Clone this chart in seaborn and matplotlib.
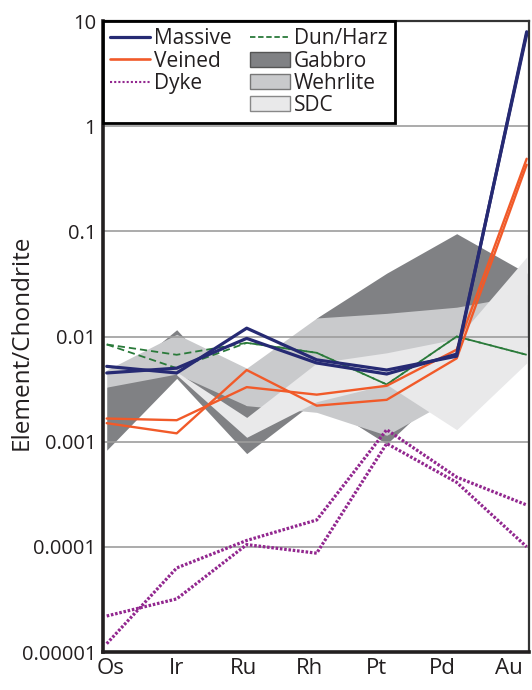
import numpy as np
import pandas as pd
import matplotlib
matplotlib.use("Agg")
import matplotlib.pyplot as plt
from matplotlib.lines import Line2D
from matplotlib.patches import Patch
import seaborn as sns

# --- data (chondrite-normalised PGE + Au) ---
elements = ["Os", "Ir", "Ru", "Rh", "Pt", "Pd", "Au"]

massive_1 = [0.0052, 0.0045, 0.0120, 0.0060, 0.0048, 0.0065, 7.9]
massive_2 = [0.0045, 0.0050, 0.0096, 0.0056, 0.0044, 0.0068, 7.5]

veined_1 = [0.00166, 0.0016, 0.0033, 0.0028, 0.0034, 0.0075, 0.49]
veined_2 = [0.0015, 0.0012, 0.0048, 0.0022, 0.0025, 0.0062, 0.43]

dyke_1 = [1.2e-5, 6.3e-5, 1.15e-4, 1.8e-4, 1.3e-3, 4.6e-4, 2.5e-4]
dyke_2 = [2.2e-5, 3.2e-5, 1.05e-4, 8.7e-5, 9.6e-4, 4.1e-4, 1.0e-4]

dun_harz_1 = [0.0084, 0.0067, 0.0087, 0.0070, 0.0035, 0.0100, 0.0067]
dun_harz_2 = [0.0084, 0.0050, 0.0087, 0.0070, 0.0035, 0.0100, 0.0067]

# fields (lower / upper envelopes)
gabbro_lo = [0.00083, 0.0040, 0.00077, 0.0025, 0.00095, 0.0040, 0.010]
gabbro_hi = [0.0033, 0.0116, 0.0022, 0.015, 0.040, 0.095, 0.040]
wehrlite_lo = [0.0033, 0.0044, 0.0022, 0.0019, 0.00115, 0.0027, 0.008]
wehrlite_hi = [0.0048, 0.0105, 0.0050, 0.0150, 0.0166, 0.019, 0.025]
sdc_lo = [np.nan, 0.0043, 0.0011, 0.0024, 0.0035, 0.0013, 0.0056]
sdc_hi = [np.nan, 0.0046, 0.0017, 0.0056, 0.0070, 0.0095, 0.057]

ytick_vals = [1e-5, 1e-4, 1e-3, 1e-2, 1e-1, 1, 10]
ytick_labels = ["0.00001", "0.0001", "0.001", "0.01", "0.1", "1", "10"]

# long-form table for the sample lines
rows = []
for group, samples in [("Massive", [massive_1, massive_2]),
                       ("Veined", [veined_1, veined_2]),
                       ("Dyke", [dyke_1, dyke_2]),
                       ("Dun/Harz", [dun_harz_1, dun_harz_2])]:
    for k, vals in enumerate(samples):
        for i, v in enumerate(vals):
            rows.append({"group": group, "sample": f"{group}_{k}", "pos": i,
                         "element": elements[i], "value": v})
df = pd.DataFrame(rows)

sns.set_style("white")
plt.rcParams["font.family"] = ["Open Sans", "DejaVu Sans"]

c_navy = "#262a73"
c_orange = "#f15a29"
c_purple = "#92278f"
c_green = "#2a7a3a"
c_gabbro = "#808184"
c_wehrlite = "#c9cacc"
c_sdc = "#e9e9ea"
c_text = "#231f20"

fig = plt.figure(figsize=(5.32, 6.9), dpi=100)
ax = fig.add_axes([103 / 532, 1 - 652 / 690, (529 - 103) / 532, (652 - 21) / 690])

x = np.arange(len(elements))
ax.fill_between(x, gabbro_lo, gabbro_hi, color=c_gabbro, lw=0, zorder=1)
ax.fill_between(x, wehrlite_lo, wehrlite_hi, color=c_wehrlite, lw=0, zorder=1.1)
ax.fill_between(x, sdc_lo, sdc_hi, color=c_sdc, lw=0, zorder=1.2)

styles = {
    "Dun/Harz": dict(color=c_green, lw=1.3, ls=(0, (4, 2.2))),
    "Dyke": dict(color=c_purple, lw=2.3, ls=(0, (0.8, 0.55))),
    "Veined": dict(color=c_orange, lw=1.7, ls="-"),
    "Massive": dict(color=c_navy, lw=2.3, ls="-"),
}
for group, st in styles.items():
    sub = df[df["group"] == group]
    sns.lineplot(data=sub, x="pos", y="value", units="sample", estimator=None,
                 color=st["color"], linewidth=st["lw"], linestyle=st["ls"],
                 legend=False, ax=ax, zorder=3)

ax.set_yscale("log")
ax.set_ylim(1e-5, 10)
ax.set_xlim(-0.053, 6.033)
ax.set_yticks(ytick_vals)
ax.set_yticklabels(ytick_labels)
ax.minorticks_off()
# labels in the original sit slightly left of the data columns
ax.set_xticks(0.05 + x * 0.95)
ax.set_xticklabels(elements)
ax.tick_params(axis="x", length=0, labelsize=16, colors=c_text, pad=4)
ax.tick_params(axis="y", length=0, labelsize=14.5, colors=c_text, pad=5)
ax.set_xlabel("")
ax.set_ylabel("")
fig.text(22 / 532, 1 - 342 / 690, "Element/Chondrite", rotation=90,
         ha="center", va="center", fontsize=17.5, color=c_text)

ax.set_axisbelow("line")
ax.yaxis.grid(True, color="#9d9d9d", lw=1.2)
ax.xaxis.grid(False)

for side in ["left", "bottom"]:
    ax.spines[side].set_linewidth(2.6)
    ax.spines[side].set_color(c_text)
for side in ["top", "right"]:
    ax.spines[side].set_linewidth(1.6)
    ax.spines[side].set_color("#333333")

handles = [
    Line2D([], [], color=c_navy, lw=2.3),
    Line2D([], [], color=c_orange, lw=1.9),
    Line2D([], [], color=c_purple, lw=1.5, ls=(0, (1, 1))),
    Line2D([], [], color="none"),
    Line2D([], [], color=c_green, lw=1.3, ls=(0, (3, 1.5))),
    Patch(facecolor=c_gabbro, edgecolor="#555555", lw=1),
    Patch(facecolor=c_wehrlite, edgecolor="#777777", lw=1),
    Patch(facecolor=c_sdc, edgecolor="#888888", lw=1),
]
labels = ["Massive", "Veined", "Dyke", "", "Dun/Harz", "Gabbro", "Wehrlite", "SDC"]
leg = ax.legend(handles, labels, loc="upper left", bbox_to_anchor=(0, 1),
                ncol=2, fontsize=15, frameon=True, fancybox=False,
                borderaxespad=0, borderpad=0.35, handlelength=1.9,
                handletextpad=0.2, labelspacing=0.06, columnspacing=0.9)
leg.get_frame().set_edgecolor("black")
leg.get_frame().set_linewidth(2)
leg.get_frame().set_alpha(1)
for t in leg.get_texts():
    t.set_color(c_text)
leg.set_zorder(5)

fig.savefig("out.png", dpi=100)
